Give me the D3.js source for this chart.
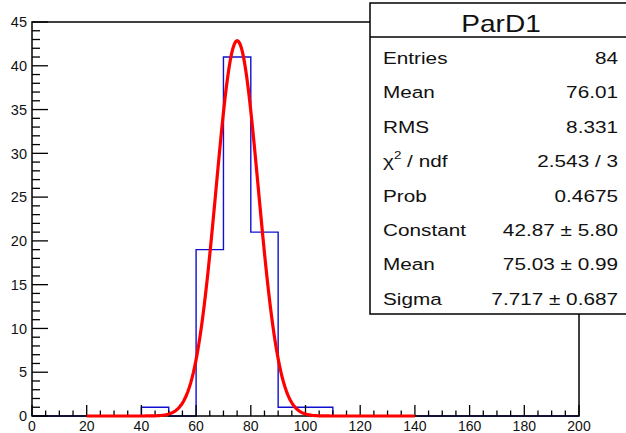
<!DOCTYPE html>
<html><head><meta charset="utf-8">
<script src="https://cdn.jsdelivr.net/npm/d3@7"></script>
<style>
html,body{margin:0;padding:0;background:#fff;}
svg{display:block;font-family:"Liberation Sans",Arial,Helvetica,sans-serif;}
</style></head>
<body>
<svg id="chart" width="626" height="433"></svg>
<script>
// ---- data ----
const binLows = [0,10,20,30,40,50,60,70,80,90,100,110,120,130,140,150,160,170,180,190];
const binCounts = [0,0,0,0,1,0,19,41,21,1,1,0,0,0,0,0,0,0,0,0];
const binWidth = 10;
const fitConstant = 42.87, fitMean = 75.03, fitSigma = 7.717;
const fitRange = [20, 140];
const xTicks = [0,20,40,60,80,100,120,140,160,180,200];
const yTicks = [0,5,10,15,20,25,30,35,40,45];
const histTitle = "ParD1";
const statLabels = ["Entries","Mean","RMS","CHI2","Prob","Constant","Mean","Sigma"];
const statValues = ["84","76.01","8.331","2.543 / 3","0.4675","42.87 \u00b1 5.80","75.03 \u00b1 0.99","7.717 \u00b1 0.687"];

// ---- layout ----
const svg = d3.select("#chart");
const L = 32, R = 579, T = 22, B = 416;
const x = d3.scaleLinear().domain([0,200]).range([L,R]);
const y = d3.scaleLinear().domain([0,45]).range([B,T]);

// histogram step outline
const pts = [];
binLows.forEach((lo,i)=>{
  pts.push([x(lo), y(binCounts[i])]);
  pts.push([x(lo+binWidth), y(binCounts[i])]);
});
svg.append("path").attr("d", d3.line()(pts)).attr("fill","none")
  .attr("stroke","#1010d0").attr("stroke-width",1.4);

// frame
svg.append("rect").attr("x",L).attr("y",T).attr("width",R-L).attr("height",B-T)
  .attr("fill","none").attr("stroke","#000").attr("stroke-width",1.5);

// x axis ticks
const xg = svg.append("g");
d3.range(0,201,5).forEach(v=>{
  const major = v%20===0;
  xg.append("line").attr("x1",x(v)).attr("x2",x(v)).attr("y1",B).attr("y2",B-(major?11:5.5))
    .attr("stroke","#000").attr("stroke-width",1.3);
});
xTicks.forEach(v=>{
  xg.append("text").attr("x",x(v)).attr("y",430.5).attr("text-anchor","middle")
    .attr("font-size",14).attr("fill","#111").text(v);
});
// y axis ticks
const yg = svg.append("g");
d3.range(0,46,1).forEach(v=>{
  const major = v%5===0;
  yg.append("line").attr("x1",L).attr("x2",L+(major?16:8)).attr("y1",y(v)).attr("y2",y(v))
    .attr("stroke","#000").attr("stroke-width",1.3);
});
yTicks.forEach(v=>{
  yg.append("text").attr("x",27).attr("y",y(v)).attr("dy","0.36em").attr("text-anchor","end")
    .attr("font-size",14.5).attr("fill","#111").text(v);
});

// gaussian fit curve
const gauss = v => fitConstant*Math.exp(-0.5*Math.pow((v-fitMean)/fitSigma,2));
const curve = d3.range(fitRange[0], fitRange[1]+0.01, 0.5).map(v=>[x(v), y(gauss(v))]);
svg.append("path").attr("d", d3.line()(curve)).attr("fill","none")
  .attr("stroke","#ff0000").attr("stroke-width",3.2).attr("stroke-linejoin","round");

// stats box
const bx = 370, by = 3, bw = 262, bh = 311;
svg.append("rect").attr("x",bx).attr("y",by).attr("width",bw).attr("height",bh)
  .attr("fill","#fff").attr("stroke","#000").attr("stroke-width",1.5);
svg.append("line").attr("x1",bx).attr("x2",bx+bw).attr("y1",37).attr("y2",37)
  .attr("stroke","#000").attr("stroke-width",1.5);
const sx = 1.22;
svg.append("text").attr("transform",`translate(501,32) scale(${sx},1)`)
  .attr("text-anchor","middle").attr("font-size",23).attr("fill","#111").text(histTitle);
const rowY = i => 64 + i*34.4;
statLabels.forEach((lab,i)=>{
  const t = svg.append("text").attr("transform",`translate(383,${rowY(i)}) scale(${sx},1)`)
    .attr("font-size",17).attr("fill","#111");
  if(lab==="CHI2"){
    t.append("tspan").text("\u03c7");
    t.append("tspan").attr("font-size",11).attr("dy",-8).text("2");
    t.append("tspan").attr("dy",8).text(" / ndf");
  } else t.text(lab);
  svg.append("text").attr("transform",`translate(618,${rowY(i)}) scale(${sx},1)`)
    .attr("text-anchor","end").attr("font-size",17).attr("fill","#111").text(statValues[i]);
});
</script>
</body></html>
